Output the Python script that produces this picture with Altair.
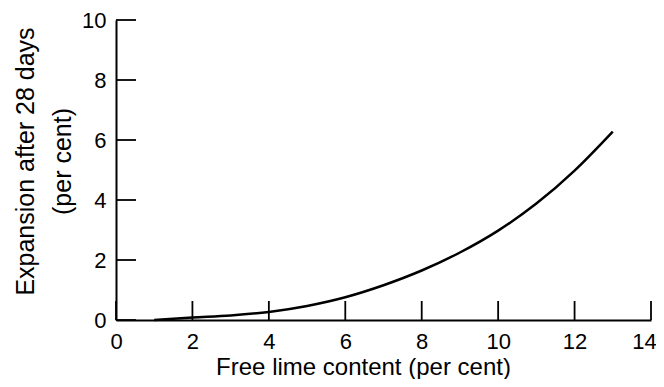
import altair as alt
import pandas as pd

# Curve
lime = [1, 2, 3, 4, 5, 6, 7, 8, 9, 10, 11, 12, 13]
expansion = [0.0, 0.08, 0.15, 0.27, 0.47, 0.76, 1.16, 1.65, 2.25, 2.98, 3.88, 4.98, 6.28]

x_ticks = [0, 2, 4, 6, 8, 10, 12, 14]
y_ticks = [0, 2, 4, 6, 8, 10]

x_title = "Free lime content (per cent)"
y_title = ["Expansion after 28 days", "(per cent)"]

FONT = "Liberation Sans"
W, H = 535, 300

df = pd.DataFrame({"x": lime, "y": expansion})
xt = pd.DataFrame({"x": x_ticks})
yt = pd.DataFrame({"y": y_ticks})

xscale = alt.Scale(domain=[0, 14], nice=False, zero=False)
yscale = alt.Scale(domain=[0, 10], nice=False, zero=False)

xaxis = alt.Axis(
    values=x_ticks, ticks=False, tickSize=0, grid=False, labelPadding=11,
    labelFlush=False, labelOverlap=False, labelBound=False,
    labelOffset=alt.condition("datum.value == 14", alt.value(-7), alt.value(0)),
    domainColor="black", domainWidth=2,
    labelFont=FONT, labelFontSize=22, labelColor="black",
    title=x_title, titleFont=FONT, titleFontSize=24, titleFontWeight="normal",
    titleColor="black", titleBaseline="alphabetic", titleAlign="center",
    titleX=247, titleY=54,
)
yaxis = alt.Axis(
    values=y_ticks, ticks=False, tickSize=0, grid=False, labelPadding=10,
    labelFlush=False, labelOverlap=False, labelBound=False,
    domainColor="black", domainWidth=2,
    labelFont=FONT, labelFontSize=22, labelColor="black",
    title=y_title, titleFont=FONT, titleFontSize=25, titleFontWeight="normal",
    titleColor="black", titleBaseline="alphabetic", titleAlign="center",
    titleAngle=270, titleX=-83, titleY=141, titleLineHeight=37,
)

X = alt.X("x:Q", scale=xscale, axis=xaxis)
Y = alt.Y("y:Q", scale=yscale, axis=yaxis)

curve = alt.Chart(df).mark_line(color="black", strokeWidth=2.5, interpolate="monotone").encode(
    x=X, y=Y,
)

xtick_rules = alt.Chart(xt).mark_rule(color="black", strokeWidth=1.8).encode(
    x=X,
    y=alt.value(H),
    y2=alt.value(H - 19),
)

ytick_rules = alt.Chart(yt).mark_rule(color="black", strokeWidth=1.8).encode(
    y=Y,
    x=alt.value(0),
    x2=alt.value(20),
)

chart = alt.layer(curve, xtick_rules, ytick_rules).properties(
    width=W, height=H,
    autosize=alt.AutoSizeParams(type="none"),
    padding={"left": 108, "top": 12, "right": 5, "bottom": 59},
    background="white",
).configure_view(stroke=None)

chart.save("out.html", embed_options={"renderer": "svg", "actions": False})
